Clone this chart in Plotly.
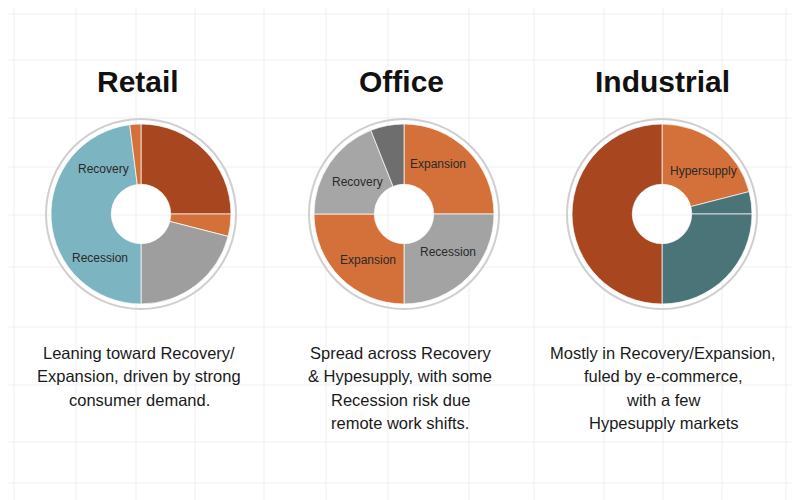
import plotly.graph_objects as go

# page body has an 8px margin; figure is sized to fill the rest of the window
OFF = 8
W, H = 800 - OFF, 500 - OFF

# ---- data ----
titles = ["Retail", "Office", "Industrial"]

retail_labels = ["Expansion", "Hypersupply", "Recession", "Recovery", "Hypersupply "]
retail_values = [25, 4, 21, 48, 2]
retail_colors = ["#A8461F", "#D4703A", "#9E9E9E", "#7DB4C1", "#D4703A"]

office_labels = ["Expansion", "Recession", "Expansion ", "Recovery", "Other"]
office_values = [25, 25, 25, 19, 6]
office_colors = ["#D4703A", "#A3A3A3", "#D4703A", "#A6A6A6", "#6E6E6E"]

industrial_labels = ["Hypersupply", "Recession", "Recession ", "Expansion"]
industrial_values = [21, 4, 25, 50]
industrial_colors = ["#D4703A", "#4B7479", "#4B7479", "#A8461F"]

captions = [
    ["Leaning toward Recovery/", "Expansion, driven by strong", "consumer demand."],
    ["Spread across Recovery", "& Hypesupply, with some", "Recession risk due", "remote work shifts."],
    ["Mostly in Recovery/Expansion,", "fuled by e-commerce,", "with a few", "Hypesupply markets"],
]

slice_labels = [
    [("Recovery", 103, 169), ("Recession", 100, 258)],
    [("Expansion", 438, 164), ("Recovery", 357, 182), ("Recession", 448, 252), ("Expansion", 368, 260)],
    [("Hypersupply", 703, 171)],
]

grid_x = [14, 76, 136, 195, 264, 326, 388, 469, 534, 604, 663, 722, 786]
grid_y = [14, 60, 118, 167, 215, 267, 327, 385, 442, 483]

# ---- layout geometry (window pixels) ----
centers_x = [141, 404, 662]
center_y = 214
radius = 90
ring_r = 95
title_x = [138, 401, 662]
title_y = 81
caption_x = [139, 400, 663]
caption_y0 = 353
caption_dy = 23.3


def px(x):
    return (x - OFF) / W


def py(y):
    return 1 - (y - OFF) / H


fig = go.Figure()

series = [
    (retail_labels, retail_values, retail_colors),
    (office_labels, office_values, office_colors),
    (industrial_labels, industrial_values, industrial_colors),
]

for i, (labs, vals, cols) in enumerate(series):
    cx = centers_x[i]
    fig.add_trace(go.Pie(
        labels=labs, values=vals,
        marker=dict(colors=cols, line=dict(color="rgba(255,255,255,0.7)", width=1)),
        hole=0.33, sort=False, direction="clockwise", rotation=0,
        textinfo="none", hoverinfo="label+value", showlegend=False,
        domain=dict(x=[px(cx - radius), px(cx + radius)],
                    y=[py(center_y + radius), py(center_y - radius)]),
    ))

shapes = []
for gx in grid_x:
    shapes.append(dict(type="line", xref="paper", yref="paper", x0=px(gx), x1=px(gx), y0=0, y1=1,
                       line=dict(color="#EFEFEF", width=1), layer="below"))
for gy in grid_y:
    shapes.append(dict(type="line", xref="paper", yref="paper", x0=0, x1=1, y0=py(gy), y1=py(gy),
                       line=dict(color="#EFEFEF", width=1), layer="below"))
for cx in centers_x:
    shapes.append(dict(type="circle", xref="paper", yref="paper",
                       x0=px(cx - ring_r), x1=px(cx + ring_r),
                       y0=py(center_y + ring_r), y1=py(center_y - ring_r),
                       line=dict(color="#CFCFCF", width=2), fillcolor="rgba(0,0,0,0)", layer="below"))

annotations = []
for i, t in enumerate(titles):
    annotations.append(dict(text="<b>" + t + "</b>", x=px(title_x[i]), y=py(title_y), xref="paper", yref="paper",
                            showarrow=False, xanchor="center", yanchor="middle",
                            font=dict(family="Liberation Sans, Arial, sans-serif", size=30, color="#111111")))
for i, lines in enumerate(captions):
    for j, line in enumerate(lines):
        annotations.append(dict(text=line, x=px(caption_x[i]), y=py(caption_y0 + j * caption_dy),
                                xref="paper", yref="paper", showarrow=False,
                                xanchor="center", yanchor="middle",
                                font=dict(family="Liberation Sans, Arial, sans-serif", size=16.5, color="#1A1A1A")))
for group in slice_labels:
    for (txt, x, y) in group:
        annotations.append(dict(text=txt, x=px(x), y=py(y), xref="paper", yref="paper", showarrow=False,
                                xanchor="center", yanchor="middle",
                                font=dict(family="Liberation Sans, Arial, sans-serif", size=12, color="#2A2A2A")))

fig.update_layout(
    width=W, height=H,
    margin=dict(l=0, r=0, t=0, b=0),
    paper_bgcolor="#FFFFFF", plot_bgcolor="#FFFFFF",
    shapes=shapes, annotations=annotations,
    showlegend=False,
)

fig.write_html("out.html")
